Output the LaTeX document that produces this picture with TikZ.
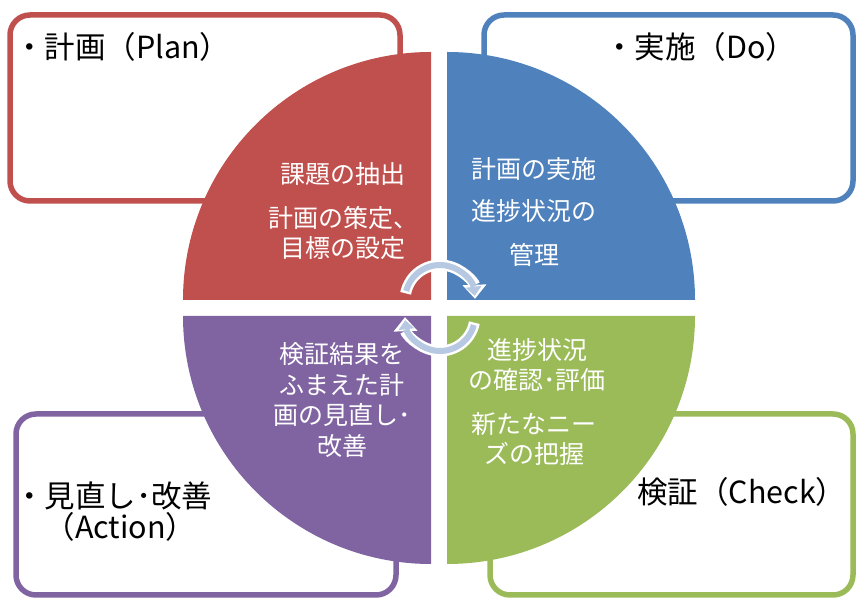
\documentclass[tikz,border=0pt]{standalone}
\usepackage{fontspec}
\setmainfont{Noto Sans CJK JP}
\usetikzlibrary{arrows.meta,calc}
\definecolor{planred}{HTML}{C0504D}
\definecolor{doblue}{HTML}{4F81BD}
\definecolor{actpurple}{HTML}{8064A2}
\definecolor{checkgreen}{HTML}{9BBB59}
\definecolor{cyclegray}{HTML}{B7C8E2}
\begin{document}
\begin{tikzpicture}[x=1pt,y=1pt,
    cornerbox/.style={draw, line width=5.5pt, rounded corners=20pt},
    boxtitle/.style={anchor=west, inner sep=0pt, align=left, font=\fontsize{30.5}{31}\selectfont},
    quadtext/.style={text=white, inner sep=0pt, align=center, font=\fontsize{25}{30.5}\selectfont}]
  \useasboundingbox (0,0) rectangle (857,599);

  % the four boxes in the corners
  \draw[cornerbox, planred]    (10,398)  rectangle (400,584);
  \draw[cornerbox, doblue]     (484,398) rectangle (853,584);
  \draw[cornerbox, actpurple]  (16,4)    rectangle (396,185);
  \draw[cornerbox, checkgreen] (490,4)   rectangle (853,185);

  % the circle in four parts
  \coordinate (cpl) at (431,299);
  \coordinate (cdo) at (447,299);
  \coordinate (cac) at (431,283);
  \coordinate (cch) at (447,283);
  \fill[planred]    (cpl) -- ++(0,248)  arc[start angle=90,  end angle=180, radius=248] -- cycle;
  \fill[doblue]     (cdo) -- ++(248,0)  arc[start angle=0,   end angle=90,  radius=248] -- cycle;
  \fill[actpurple]  (cac) -- ++(-248,0) arc[start angle=180, end angle=270, radius=248] -- cycle;
  \fill[checkgreen] (cch) -- ++(0,-248) arc[start angle=270, end angle=360, radius=248] -- cycle;

  % titles
  \node[boxtitle] (plan)  at (14,552)  {・計画（Plan）};
  \node[boxtitle] (do)    at (604,552) {・実施（Do）};
  \node[boxtitle] (act)   at (14,87)   {・見直し･改善\\\hspace*{1em}（Action）};
  \node[boxtitle] (check) at (637,107) {検証（Check）};

  % texts in the circle
  \node[quadtext] (plan-a) at (343,425) {課題の抽出};
  \node[quadtext] (plan-b) at (343,366) {計画の策定、\\目標の設定};
  \node[quadtext] (do-a)   at (534,430) {計画の実施};
  \node[quadtext] (do-b)   at (534,388) {進捗状況の};
  \node[quadtext] (do-c)   at (534,344) {管理};
  \node[quadtext] (act-a)  at (342,199) {検証結果を\\ふまえた計\\画の見直し･\\改善};
  \node[quadtext] (check-a) at (537,234) {進捗状況\\の確認･評価};
  \node[quadtext] (check-b) at (534,160) {新たなニー\\ズの把握};

  % arrows round the centre
  \coordinate (ctop) at (440,299);
  \coordinate (cbot) at (440,283);
  \draw[white, line width=11pt, -{Triangle[length=14pt, width=24pt, line width=0pt]}]
    ($(ctop)+(169:35)$) arc[start angle=169, end angle=2, radius=35];
  \draw[cyclegray, line width=6pt, -{Triangle[length=9pt, width=16pt, line width=0pt]}]
    ($(ctop)+(165:35)$) arc[start angle=165, end angle=7, radius=35];
  \draw[white, line width=11pt, -{Triangle[length=14pt, width=24pt, line width=0pt]}]
    ($(cbot)+(-11:35)$) arc[start angle=-11, end angle=-178, radius=35];
  \draw[cyclegray, line width=6pt, -{Triangle[length=9pt, width=16pt, line width=0pt]}]
    ($(cbot)+(-15:35)$) arc[start angle=-15, end angle=-173, radius=35];
\end{tikzpicture}
\end{document}
